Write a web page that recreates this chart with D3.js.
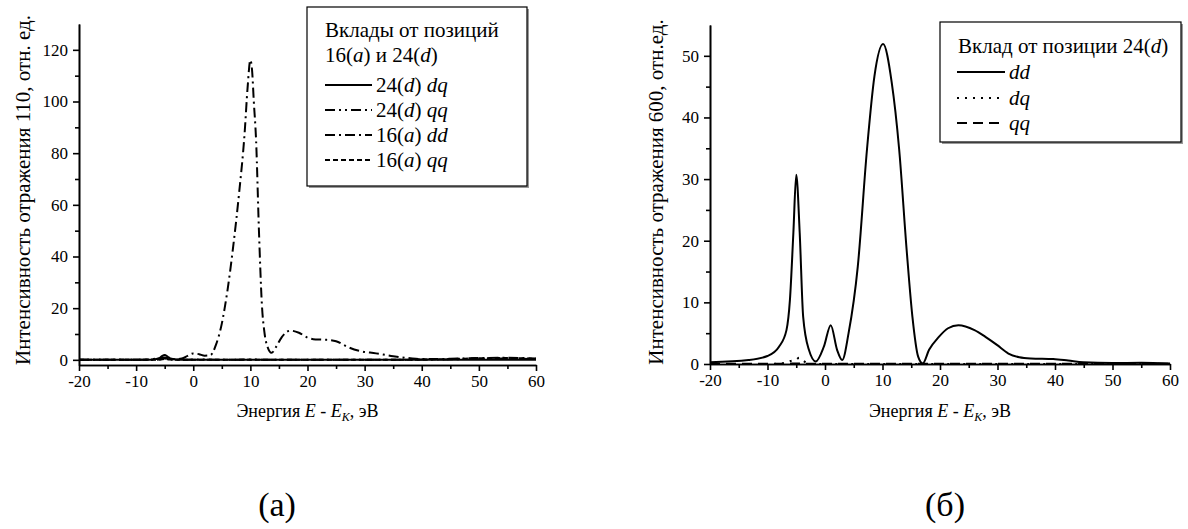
<!DOCTYPE html>
<html>
<head>
<meta charset="utf-8">
<script src="https://cdn.jsdelivr.net/npm/d3@7"></script>
<style>
  body { margin: 0; background: #fff; }
  svg text { font-family: "Liberation Serif", "Times New Roman", Times, serif; fill: #000; }
</style>
</head>
<body>
<div id="chart"></div>
<script>
const width = 1188;
const height = 529;
const serif = '"Liberation Serif", "Times New Roman", Times, serif';

// ---- data ----
// panel (a): main curve 16(a) dd
const energyA = [-20, -15, -10, -8, -7, -6, -5.5, -5, -4.5, -4, -3, -2, -1, 0, 1, 2, 3, 4, 5, 5.5, 6, 7, 8, 9, 9.5, 10, 10.3, 10.6, 11, 11.5, 12, 12.5, 13, 13.7, 14.5, 15.5, 17, 18.5, 20, 21, 23, 25, 27, 29, 32, 35, 38, 40, 45, 50, 55, 60];
const dd16a = [0, 0, 0, 0.1, 0.3, 0.6, 0.8, 0.9, 0.7, 0.4, 0.3, 0.5, 1.5, 2.5, 2.2, 1.6, 1.8, 6, 14, 20, 27, 44, 64, 88, 105, 116, 112, 100, 85, 50, 22, 10, 5, 2.7, 5, 8.8, 11.3, 10.5, 8.6, 8, 7.8, 7.2, 5, 3.5, 2.5, 1.4, 0.6, 0.3, 0.4, 0.7, 0.8, 0.5];

// near-zero contributions share a coarse grid
const energySmall = [-20, -15, -10, -8, -7, -6, -5.5, -5, -4.5, -4, -3, -2, 0, 2, 5, 10, 15, 20, 25, 30, 35, 40, 45, 50, 55, 60];
const dq24d = [0, 0, 0, 0, 0.1, 0.6, 1.4, 1.9, 1.3, 0.5, 0.1, 0, 0, 0, 0, 0, 0, 0, 0, 0, 0, 0, 0, 0, 0, 0];
const qq24d = [0, 0, 0, 0, 0, 0.1, 0.3, 0.5, 0.3, 0.1, 0, 0, 0.1, 0.1, 0, 0.1, 0, 0, 0, 0, 0, 0.1, 0.2, 0.4, 0.5, 0.3];
const qq16a = [0, 0, 0, 0, 0, 0.1, 0.2, 0.3, 0.2, 0.1, 0, 0, 0, 0, 0, 0, 0, 0, 0, 0, 0, 0.1, 0.3, 0.6, 0.7, 0.4];

// panel (б): reflection 600, position 24(d)
const energyB = [-20, -13.3, -10, -8, -6.7, -6.1, -5.5, -5, -4.4, -3.8, -2.8, -1.6, -0.2, 1, 2.1, 3, 4.1, 5.7, 7.3, 8.6, 10.1, 11.6, 12.9, 14.2, 15.2, 16.2, 17, 18.1, 19.8, 21.4, 23.2, 26, 27.9, 29.9, 31.9, 33.8, 35.8, 39.7, 42.3, 44.9, 50, 55, 60];
const ddB = [0.3, 0.65, 1.3, 2.8, 5.5, 10.4, 21.3, 30.7, 21.3, 7.7, 2.3, 0.4, 2.8, 6.3, 2.3, 0.65, 5.0, 15.8, 34.8, 46.7, 51.9, 45.7, 34.8, 18.5, 7.7, 1.2, 0.1, 2.3, 4.4, 5.8, 6.3, 5.5, 4.4, 3.1, 1.7, 1.1, 0.9, 0.8, 0.55, 0.27, 0.15, 0.2, 0.1];
const dqB = [0, 0, 0, 0.05, 0.2, 0.5, 0.6, 0.7, 1.0, 0.7, 0.1, 0, 0, 0, 0, 0, 0, 0, 0, 0, 0, 0, 0, 0, 0, 0];
const qqB = [0.05, 0.05, 0.05, 0.05, 0.05, 0.1, 0.1, 0.1, 0.1, 0.1, 0.05, 0.05, 0.05, 0.05, 0.05, 0.05, 0.05, 0.05, 0.05, 0.05, 0.05, 0.05, 0.05, 0.05, 0.05, 0.05];

const xTicks = [-20, -10, 0, 10, 20, 30, 40, 50, 60];
const xMinor = [-15, -5, 5, 15, 25, 35, 45, 55];
const yTicksA = [0, 20, 40, 60, 80, 100, 120];
const yMinorA = [10, 30, 50, 70, 90, 110];
const yTicksB = [0, 10, 20, 30, 40, 50];
const yMinorB = [5, 15, 25, 35, 45];

// line styles
const styles = {
  solid: null,
  dashDot: "10,4,2,4",
  dashDotDot: "10,4,2,4,2,4",
  shortDash: "5,3",
  dot: "2,6",
  dash: "10,6"
};

const svg = d3.select("#chart")
  .append("svg")
  .attr("width", width)
  .attr("height", height)
  .attr("font-family", serif);

function drawPanel(cfg) {
  const x = d3.scaleLinear().domain([-20, 60]).range(cfg.xRange);
  const y = d3.scaleLinear().domain(cfg.yDomain).range(cfg.yRange);
  const g = svg.append("g");

  const line = d3.line()
    .x(d => x(d[0]))
    .y(d => y(d[1]))
    .curve(d3.curveMonotoneX);

  cfg.series.forEach(s => {
    g.append("path")
      .datum(d3.zip(s.x, s.y))
      .attr("d", line)
      .attr("fill", "none")
      .attr("stroke", "#000")
      .attr("stroke-width", 2)
      .attr("stroke-dasharray", s.dash);
  });

  // axes: major then minor
  const axisY = y(cfg.yDomain[0]);
  g.append("g")
    .attr("transform", `translate(0,${axisY})`)
    .call(d3.axisBottom(x).tickValues(xTicks).tickFormat(d => String(d))
      .tickSize(6).tickPadding(4).tickSizeOuter(0));
  g.append("g")
    .attr("transform", `translate(0,${axisY})`)
    .call(d3.axisBottom(x).tickValues(xMinor).tickSize(4).tickFormat("").tickSizeOuter(0));

  g.append("g")
    .attr("transform", `translate(${cfg.xRange[0]},0)`)
    .call(d3.axisLeft(y).tickValues(cfg.yTicks).tickFormat(d => String(d))
      .tickSize(6).tickPadding(5).tickSizeOuter(0));
  g.append("g")
    .attr("transform", `translate(${cfg.xRange[0]},0)`)
    .call(d3.axisLeft(y).tickValues(cfg.yMinor).tickSize(4).tickFormat("").tickSizeOuter(0));

  g.selectAll("g").attr("font-family", serif);
  g.selectAll(".domain, .tick line").attr("stroke", "#000").attr("stroke-width", 1.6);
  g.selectAll(".tick text")
    .attr("font-size", 17)
    .attr("fill", "#000");

  // x title
  const xt = g.append("text")
    .attr("x", (cfg.xRange[0] + cfg.xRange[1]) / 2)
    .attr("y", 417)
    .attr("text-anchor", "middle")
    .attr("font-size", 18);
  xt.append("tspan").text("Энергия ");
  xt.append("tspan").attr("font-style", "italic").text("E");
  xt.append("tspan").text(" - ");
  xt.append("tspan").attr("font-style", "italic").text("E");
  xt.append("tspan").attr("font-style", "italic").attr("font-size", 12).attr("dy", 4).text("K");
  xt.append("tspan").attr("dy", -4).text(", эВ");

  // y title
  g.append("text")
    .attr("transform", `translate(${cfg.yTitleX},${cfg.yTitleY}) rotate(-90)`)
    .attr("text-anchor", "middle")
    .attr("font-size", 21)
    .text(cfg.yTitle);

  // caption
  g.append("text")
    .attr("x", cfg.captionX)
    .attr("y", 516)
    .attr("text-anchor", "middle")
    .attr("font-size", 34)
    .text(cfg.caption);

  // legend
  const lg = g.append("g");
  const b = cfg.legendBox;
  lg.append("rect")
    .attr("x", b[0] + 2).attr("y", b[1] + 2)
    .attr("width", b[2] - b[0]).attr("height", b[3] - b[1])
    .attr("fill", "#999");
  lg.append("rect")
    .attr("x", b[0]).attr("y", b[1])
    .attr("width", b[2] - b[0]).attr("height", b[3] - b[1])
    .attr("fill", "#fff").attr("stroke", "#000").attr("stroke-width", 1.2);

  cfg.legendTitle.forEach((parts, i) => {
    const t = lg.append("text")
      .attr("x", b[0] + 18)
      .attr("y", cfg.legendTitleY[i])
      .attr("font-size", 21);
    parts.forEach(p => t.append("tspan").attr("font-style", p[1] ? "italic" : null).text(p[0]));
  });

  cfg.series.forEach((s, i) => {
    const cy = cfg.legendRowY[i];
    lg.append("line")
      .attr("x1", cfg.legendLine[0]).attr("x2", cfg.legendLine[1])
      .attr("y1", cy).attr("y2", cy)
      .attr("stroke", "#000").attr("stroke-width", 2)
      .attr("stroke-dasharray", s.dash);
    const t = lg.append("text")
      .attr("x", cfg.legendLine[1] + 4)
      .attr("y", cy + 7)
      .attr("font-size", 21);
    s.label.forEach(p => t.append("tspan").attr("font-style", p[1] ? "italic" : null).text(p[0]));
  });
}

drawPanel({
  xRange: [79, 536],
  yDomain: [-2, 130],
  yRange: [365, 24],
  yTicks: yTicksA,
  yMinor: yMinorA,
  yTitle: "Интенсивность отражения 110, отн. ед.",
  yTitleX: 30,
  yTitleY: 190,
  caption: "(а)",
  captionX: 277,
  legendBox: [307, 7, 527, 186],
  legendTitle: [
    [["Вклады от позиций", false]],
    [["16(", false], ["a", true], [") и 24(", false], ["d", true], [")", false]]
  ],
  legendTitleY: [37, 62],
  legendRowY: [85, 110, 135, 160],
  legendLine: [325, 372],
  series: [
    { x: energySmall, y: dq24d, dash: styles.solid, label: [["24(", false], ["d", true], [") ", false], ["dq", true]] },
    { x: energySmall, y: qq24d, dash: styles.dashDotDot, label: [["24(", false], ["d", true], [") ", false], ["qq", true]] },
    { x: energyA, y: dd16a, dash: styles.dashDot, label: [["16(", false], ["a", true], [") ", false], ["dd", true]] },
    { x: energySmall, y: qq16a, dash: styles.shortDash, label: [["16(", false], ["a", true], [") ", false], ["qq", true]] }
  ]
});

drawPanel({
  xRange: [710, 1170],
  yDomain: [0, 55],
  yRange: [364, 25],
  yTicks: yTicksB,
  yMinor: yMinorB,
  yTitle: "Интенсивность отражения 600, отн.ед.",
  yTitleX: 663,
  yTitleY: 192,
  caption: "(б)",
  captionX: 945,
  legendBox: [940, 22, 1181, 142],
  legendTitle: [
    [["Вклад от позиции 24(", false], ["d", true], [")", false]]
  ],
  legendTitleY: [53],
  legendRowY: [72, 98, 123],
  legendLine: [957, 1005],
  series: [
    { x: energyB, y: ddB, dash: styles.solid, label: [["dd", true]] },
    { x: energySmall, y: dqB, dash: styles.dot, label: [["dq", true]] },
    { x: energySmall, y: qqB, dash: styles.dash, label: [["qq", true]] }
  ]
});
</script>
</body>
</html>
